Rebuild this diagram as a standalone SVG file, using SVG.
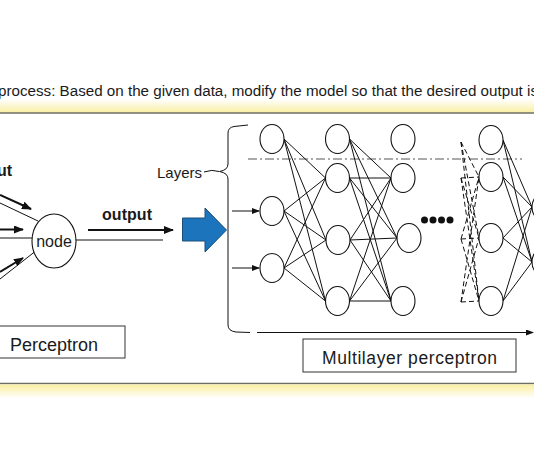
<svg xmlns="http://www.w3.org/2000/svg" width="534" height="462" viewBox="0 0 534 462">
<defs>
<linearGradient id="gTop" x1="0" y1="0" x2="0" y2="1"><stop offset="0" stop-color="#ffffff"/><stop offset="1" stop-color="#faeea0"/></linearGradient>
<linearGradient id="gBot" x1="0" y1="0" x2="0" y2="1"><stop offset="0" stop-color="#faeea0"/><stop offset="1" stop-color="#ffffff"/></linearGradient>
<marker id="bold" markerUnits="userSpaceOnUse" markerWidth="10" markerHeight="8" refX="9" refY="4" orient="auto"><path d="M0,0 L10,4 L0,8 Z" fill="#111"/></marker>
<marker id="thin" markerUnits="userSpaceOnUse" markerWidth="8" markerHeight="6" refX="7" refY="3" orient="auto"><path d="M0,0 L8,3 L0,6 Z" fill="#111"/></marker>
</defs>
<style>
.t{font-family:"Liberation Sans",Arial,sans-serif;fill:#1a1a1a}
.b{font-weight:bold}
.n{fill:#fff;stroke:#111;stroke-width:1.1}
.c{stroke:#111;stroke-width:1;fill:none}
.d{stroke:#111;stroke-width:1;fill:none;stroke-dasharray:5 3}
.ba{stroke:#111;stroke-width:2;fill:none;marker-end:url(#bold)}
.ta{stroke:#111;stroke-width:1;fill:none;marker-end:url(#thin)}
.box{fill:#fff;stroke:#333;stroke-width:1}
</style>
<rect width="534" height="462" fill="#fff"/>
<text class="t" x="-2" y="96" font-size="14" textLength="540" lengthAdjust="spacingAndGlyphs">process: Based on the given data, modify the model so that the desired output is</text>
<rect x="0" y="99" width="534" height="14" fill="url(#gTop)"/>
<line x1="0" y1="113" x2="534" y2="113" stroke="#6e6e62" stroke-width="1.6"/>
<line x1="0" y1="383.5" x2="534" y2="383.5" stroke="#6e6e62" stroke-width="1.6"/>
<rect x="0" y="384.5" width="534" height="14" fill="url(#gBot)"/>

<g id="perceptron-inputs">
<text class="t b" x="12" y="176" font-size="16" text-anchor="end">input</text>
<line class="ba" x1="0" y1="195" x2="31" y2="209"/>
<line class="c" x1="0" y1="203" x2="38" y2="221"/>
<line class="ba" x1="0" y1="229.5" x2="23" y2="229.5"/>
<line class="c" x1="0" y1="238" x2="32" y2="238"/>
<line class="ba" x1="0" y1="272" x2="23" y2="258"/>
<line class="c" x1="0" y1="279" x2="37" y2="250"/>
</g>
<g id="node">
<ellipse class="n" cx="54" cy="241" rx="22" ry="27"/>
<text class="t" x="54" y="247" font-size="16" text-anchor="middle">node</text>
</g>
<g id="perceptron-output">
<text class="t b" x="102" y="220" font-size="16" textLength="50">output</text>
<line class="ba" x1="88" y1="230" x2="173" y2="230"/>
<line class="c" x1="76" y1="240" x2="163" y2="240"/>
</g>
<g id="perceptron-label">
<rect class="box" x="-5" y="326" width="130" height="32"/>
<text class="t" x="10" y="351" font-size="18" textLength="88">Perceptron</text>
</g>
<g id="big-arrow">
<polygon points="182.5,218 205,218 205,208 226.5,230 205,252 205,241 182.5,241" fill="#1b74bc" stroke="#1d4e78" stroke-width="1"/>
</g>
<g id="layers-brace">
<text class="t" x="157" y="178" font-size="15" textLength="45">Layers</text>
<path class="c" d="M204,172 Q212,169 219,171.5"/>
<path class="c" d="M248,125 L234,126.5 Q228,127.5 228,133 L228,164 Q228,170 219.5,171.5 Q228,173 228,179 L228,325 Q228,331 236,332 L250,332.5"/>
<line class="ta" x1="257" y1="332.5" x2="533" y2="332.5"/>
<line x1="248" y1="159" x2="522" y2="159" stroke="#555" stroke-width="1" stroke-dasharray="9 3 2 3"/>
</g>
<g id="connectors">
<line class="ta" x1="232" y1="211" x2="259" y2="211"/>
<line class="ta" x1="232" y1="268" x2="259" y2="268"/>
<path class="c" d="M284,139 L325.5,178 M284,139 L326,240 M284,139 L325.5,301 M284,211 L325.5,178 M284,211 L326,240 M284,211 L325.5,301 M284,268 L325.5,178 M284,268 L326,240 M284,268 L325.5,301"/>
<path class="c" d="M349.5,139 L391,178 M349.5,139 L397,238 M349.5,139 L391,301 M349.5,178 L391,178 M349.5,178 L397,238 M349.5,178 L391,301 M350,240 L391,178 M350,240 L397,238 M350,240 L391,301 M349.5,301 L391,178 M349.5,301 L397,238 M349.5,301 L391,301"/>
<path class="d" d="M461,142 L479,177 M461,142 L479,238 M461,142 L479,301 M461,178 L479,177 M461,178 L479,238 M461,178 L479,301 M461,239 L479,177 M461,239 L479,238 M461,239 L479,301 M461,302 L479,177 M461,302 L479,238 M461,302 L479,301"/>
<path class="c" d="M503,140 L532,207 M503,140 L532,262 M503,177 L532,207 M503,177 L532,262 M503,238 L532,207 M503,238 L532,262 M503,301 L532,207 M503,301 L532,262"/>
</g>
<g id="layer1">
<ellipse class="n" cx="272" cy="139" rx="12" ry="14.5"/>
<ellipse class="n" cx="272" cy="211" rx="12" ry="14.5"/>
<ellipse class="n" cx="272" cy="268" rx="12" ry="14.5"/>
</g>
<g id="layer2">
<ellipse class="n" cx="337.5" cy="139" rx="12" ry="14.5"/>
<ellipse class="n" cx="337.5" cy="178" rx="12" ry="14.5"/>
<ellipse class="n" cx="338" cy="240" rx="12" ry="14.5"/>
<ellipse class="n" cx="337.5" cy="301" rx="12" ry="14.5"/>
</g>
<g id="layer3">
<ellipse class="n" cx="403" cy="139" rx="12" ry="14.5"/>
<ellipse class="n" cx="403" cy="178" rx="12" ry="14.5"/>
<ellipse class="n" cx="409" cy="238" rx="12" ry="14.5"/>
<ellipse class="n" cx="403" cy="301" rx="12" ry="14.5"/>
</g>
<g id="dots" fill="#111">
<circle cx="424.5" cy="220" r="3.5"/>
<circle cx="433" cy="220" r="3.5"/>
<circle cx="441.5" cy="220" r="3.5"/>
<circle cx="450" cy="220" r="3.5"/>
</g>
<g id="layer4">
<ellipse class="n" cx="491" cy="140" rx="12" ry="14.5"/>
<ellipse class="n" cx="491" cy="177" rx="12" ry="14.5"/>
<ellipse class="n" cx="491" cy="238" rx="12" ry="14.5"/>
<ellipse class="n" cx="491" cy="301" rx="12" ry="14.5"/>
</g>
<g id="layer5">
<ellipse class="n" cx="544" cy="207" rx="12" ry="14.5"/>
<ellipse class="n" cx="544" cy="262" rx="12" ry="14.5"/>
</g>
<g id="mlp-label">
<rect class="box" x="303" y="339" width="213" height="33"/>
<text class="t" x="322" y="364" font-size="17.5" textLength="175">Multilayer perceptron</text>
</g>
</svg>
